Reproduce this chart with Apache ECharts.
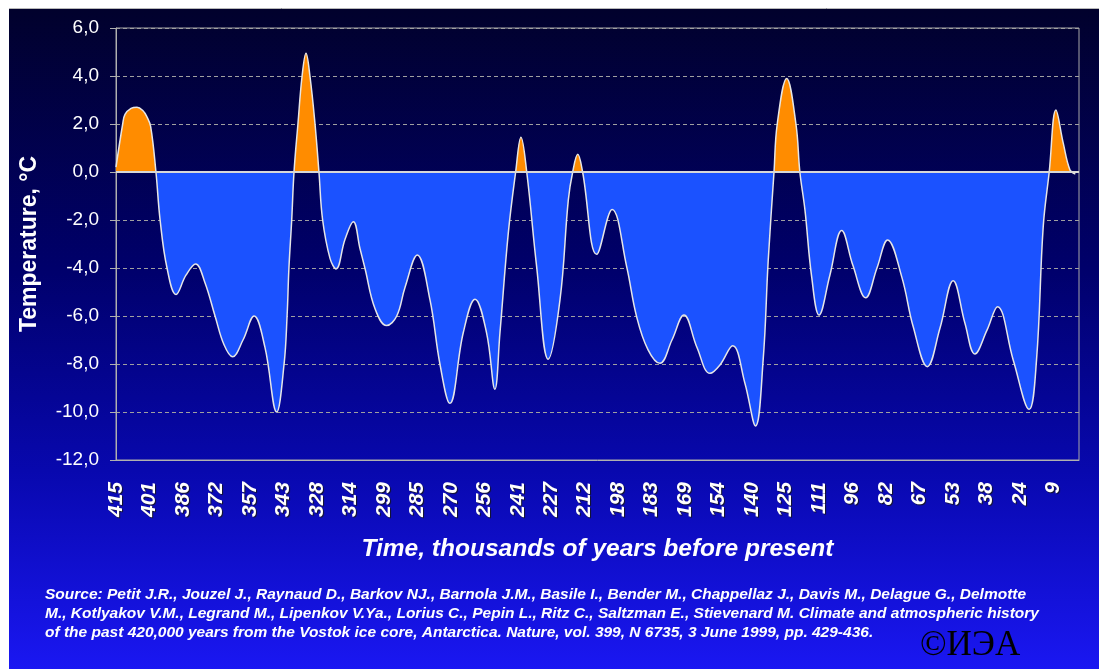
<!DOCTYPE html>
<html>
<head>
<meta charset="utf-8">
<script src="https://cdn.jsdelivr.net/npm/echarts@6/dist/echarts.min.js"></script>
<style>
html,body{margin:0;padding:0;background:#fff;}
#chart{width:1099px;height:669px;}
</style>
</head>
<body>
<div id="chart"></div>
<script>
// Age, thousands of years before present
const ages = [
  415.0, 412.1, 411.1, 408.5, 405.9, 403.3, 401.6, 400.0, 397.7, 395.9,
  392.9, 389.0, 384.7, 380.5, 376.5, 372.1, 368.2, 364.5, 360.0, 355.2,
  350.5, 345.4, 342.2, 340.9, 340.1, 338.9, 337.9, 336.2, 334.4, 332.7,
  331.0, 328.8, 327.1, 325.5, 322.3, 319.7, 315.8, 312.2, 309.3, 307.2,
  302.8, 297.8, 293.4, 289.8, 284.5, 279.0, 274.7, 270.4, 264.6, 259.5,
  254.5, 250.9, 248.7, 245.1, 241.9, 239.6, 237.1, 232.8, 227.8, 222.7,
  219.1, 217.2, 215.0, 212.9, 206.8, 200.1, 193.8, 189.5, 184.6, 179.4,
  174.2, 169.0, 163.4, 157.7, 153.4, 147.9, 142.6, 138.0, 134.7, 132.5,
  130.0, 128.6, 124.5, 120.5, 118.8, 116.6, 113.7, 110.5, 105.8, 100.7,
  95.8, 90.3, 85.4, 80.8, 74.7, 69.7, 63.6, 58.1, 52.4, 47.3,
  43.0, 37.8, 33.2, 26.4, 19.5, 16.3, 13.4, 10.8, 7.9, 4.7,
  1.8, -0.5
];
// Temperature anomaly, °C
const temps = [
  0.2, 2.0, 2.4, 2.65, 2.7, 2.55, 2.3, 1.9, 0.0, -2.0,
  -4.0, -5.1, -4.3, -3.83, -4.6, -6.0, -7.2, -7.7, -7.0, -6.0,
  -7.3, -10.0, -8.0, -6.0, -4.0, -2.0, 0.0, 2.0, 4.0, 4.95,
  4.0, 2.0, 0.0, -2.0, -3.6, -4.04, -2.8, -2.07, -3.2, -4.0,
  -5.7, -6.4, -6.0, -4.8, -3.46, -5.33, -8.0, -9.64, -6.7, -5.3,
  -6.7, -9.05, -6.7, -2.56, 0.0, 1.45, 0.0, -3.95, -7.8, -5.33,
  -1.17, 0.0, 0.74, 0.0, -3.43, -1.56, -3.95, -6.03, -7.4, -7.97,
  -7.0, -5.96, -7.3, -8.39, -8.04, -7.24, -8.8, -10.58, -7.83, -3.67,
  0.0, 2.0, 3.9, 2.0, 0.0, -1.58, -4.36, -5.96, -4.3, -2.44,
  -3.9, -5.24, -4.0, -2.83, -4.36, -6.45, -8.11, -6.5, -4.53, -6.3,
  -7.58, -6.6, -5.61, -7.83, -9.89, -7.83, -2.28, 0.0, 2.58, 1.19,
  0.08, -0.08
];
// X tick labels (thousands of years before present), one every 14.5 kyr
const xTickLabels = ['415','401','386','372','357','343','328','314','299','285',
  '270','256','241','227','212','198','183','169','154','140','125','111','96',
  '82','67','53','38','24','9'];
const xTickStep = 14.5;
const axisStartAge = 415;
const axisSpan = 417.1;
// Y axis
const yMin = -12, yMax = 6, yStep = 2;

const texts = {
  yName: 'Temperature, °C',
  xName: 'Time, thousands of years before present',
  source: 'Source: Petit J.R., Jouzel J., Raynaud D., Barkov NJ., Barnola J.M., Basile I., Bender M., Chappellaz J., Davis M., Delague G., Delmotte\n' +
          'M., Kotlyakov V.M., Legrand M., Lipenkov V.Ya., Lorius C., Pepin L., Ritz C., Saltzman E., Stievenard M. Climate and atmospheric history\n' +
          'of the past 420,000 years from the Vostok ice core, Antarctica. Nature, vol. 399, N 6735, 3 June 1999, pp. 429-436.',
  copy: '©ИЭА'
};

const seriesData = ages.map((a, i) => [axisStartAge - a, temps[i]]);

const chart = echarts.init(document.getElementById('chart'));
const FONT = '"Liberation Sans", Arial, sans-serif';
chart.setOption({
  animation: false,
  backgroundColor: 'transparent',
  graphic: [
    {
      type: 'rect', z: -10, silent: true,
      shape: {x: 9, y: 8, width: 1090, height: 661},
      style: {
        fill: {
          type: 'linear', x: 0, y: 0, x2: 0, y2: 1,
          colorStops: [
            {offset: 0, color: '#01012c'},
            {offset: 0.4, color: '#00006c'},
            {offset: 0.7, color: '#0808ae'},
            {offset: 1, color: '#1a17f2'}
          ]
        }
      }
    },
    {
      type: 'line', z: -9, silent: true,
      shape: {x1: 9, y1: 8.5, x2: 1099, y2: 8.5},
      style: {stroke: '#b8b8b8', lineWidth: 1}
    },
    {
      type: 'text', left: 45, top: 585, z: 10,
      style: {
        text: texts.source,
        fill: '#ffffff',
        font: 'italic bold 15.5px ' + FONT,
        lineHeight: 19
      }
    },
    {
      type: 'text', left: 920, top: 628, z: 10,
      style: {
        text: texts.copy,
        fill: '#000000',
        font: '35px "Liberation Serif", "Times New Roman", serif'
      }
    }
  ],
  grid: {
    left: 116, right: 20, top: 28, bottom: 209,
    show: true, borderColor: '#a8a8a8', borderWidth: 1,
    backgroundColor: 'transparent'
  },
  visualMap: {
    show: false, type: 'piecewise', dimension: 1, seriesIndex: 0,
    pieces: [
      {gt: 0, lte: 50, color: '#ff8c00'},
      {gt: -50, lte: 0, color: '#1b52ff'}
    ],
    outOfRange: {color: '#1b52ff'}
  },
  xAxis: {
    type: 'value', min: 0, max: axisSpan, interval: xTickStep,
    name: texts.xName, nameLocation: 'middle', nameGap: 77,
    nameTextStyle: {color: '#ffffff', fontSize: 24.5, fontWeight: 'bold', fontStyle: 'italic', fontFamily: FONT,
      textShadowColor: 'rgba(0,0,0,0.6)', textShadowOffsetX: 1, textShadowOffsetY: 1},
    axisLine: {onZero: false, lineStyle: {color: '#b0b0b0', width: 1}},
    axisTick: {show: false},
    splitLine: {show: false},
    axisLabel: {
      rotate: 90, margin: 22, color: '#ffffff', fontSize: 21, fontWeight: 'bold', fontStyle: 'italic', fontFamily: FONT,
      textShadowColor: 'rgba(20,20,20,0.9)', textShadowOffsetX: 1, textShadowOffsetY: 1, textShadowBlur: 1,
      showMaxLabel: false,
      formatter: function (v) {
        const i = Math.round(v / xTickStep);
        if (Math.abs(v - i * xTickStep) > 1e-6 || i >= xTickLabels.length) return '';
        return xTickLabels[i];
      }
    }
  },
  yAxis: {
    type: 'value', min: yMin, max: yMax, interval: yStep,
    name: texts.yName, nameLocation: 'middle', nameGap: 75, nameRotate: 90,
    nameTextStyle: {color: '#ffffff', fontSize: 23, fontWeight: 'bold', fontFamily: FONT},
    axisLine: {show: true, lineStyle: {color: '#b0b0b0', width: 1}},
    axisTick: {show: true, length: 6, lineStyle: {color: '#b0b0b0'}},
    axisLabel: {
      color: '#ffffff', fontSize: 19, fontFamily: FONT, margin: 17,
      formatter: function (v) { return v.toFixed(1).replace('.', ','); }
    },
    splitLine: {show: true, lineStyle: {color: '#a0a0a0', width: 1, type: [4, 3]}}
  },
  series: [{
    type: 'line',
    data: seriesData,
    smooth: 0.4,
    symbol: 'none',
    lineStyle: {color: '#e6e6e6', width: 1.5},
    areaStyle: {opacity: 1, origin: 0},
    markLine: {
      silent: true, symbol: 'none', label: {show: false},
      lineStyle: {color: '#d8d8d8', width: 2, type: 'solid'},
      data: [{yAxis: 0}]
    }
  }]
});
</script>
</body>
</html>
